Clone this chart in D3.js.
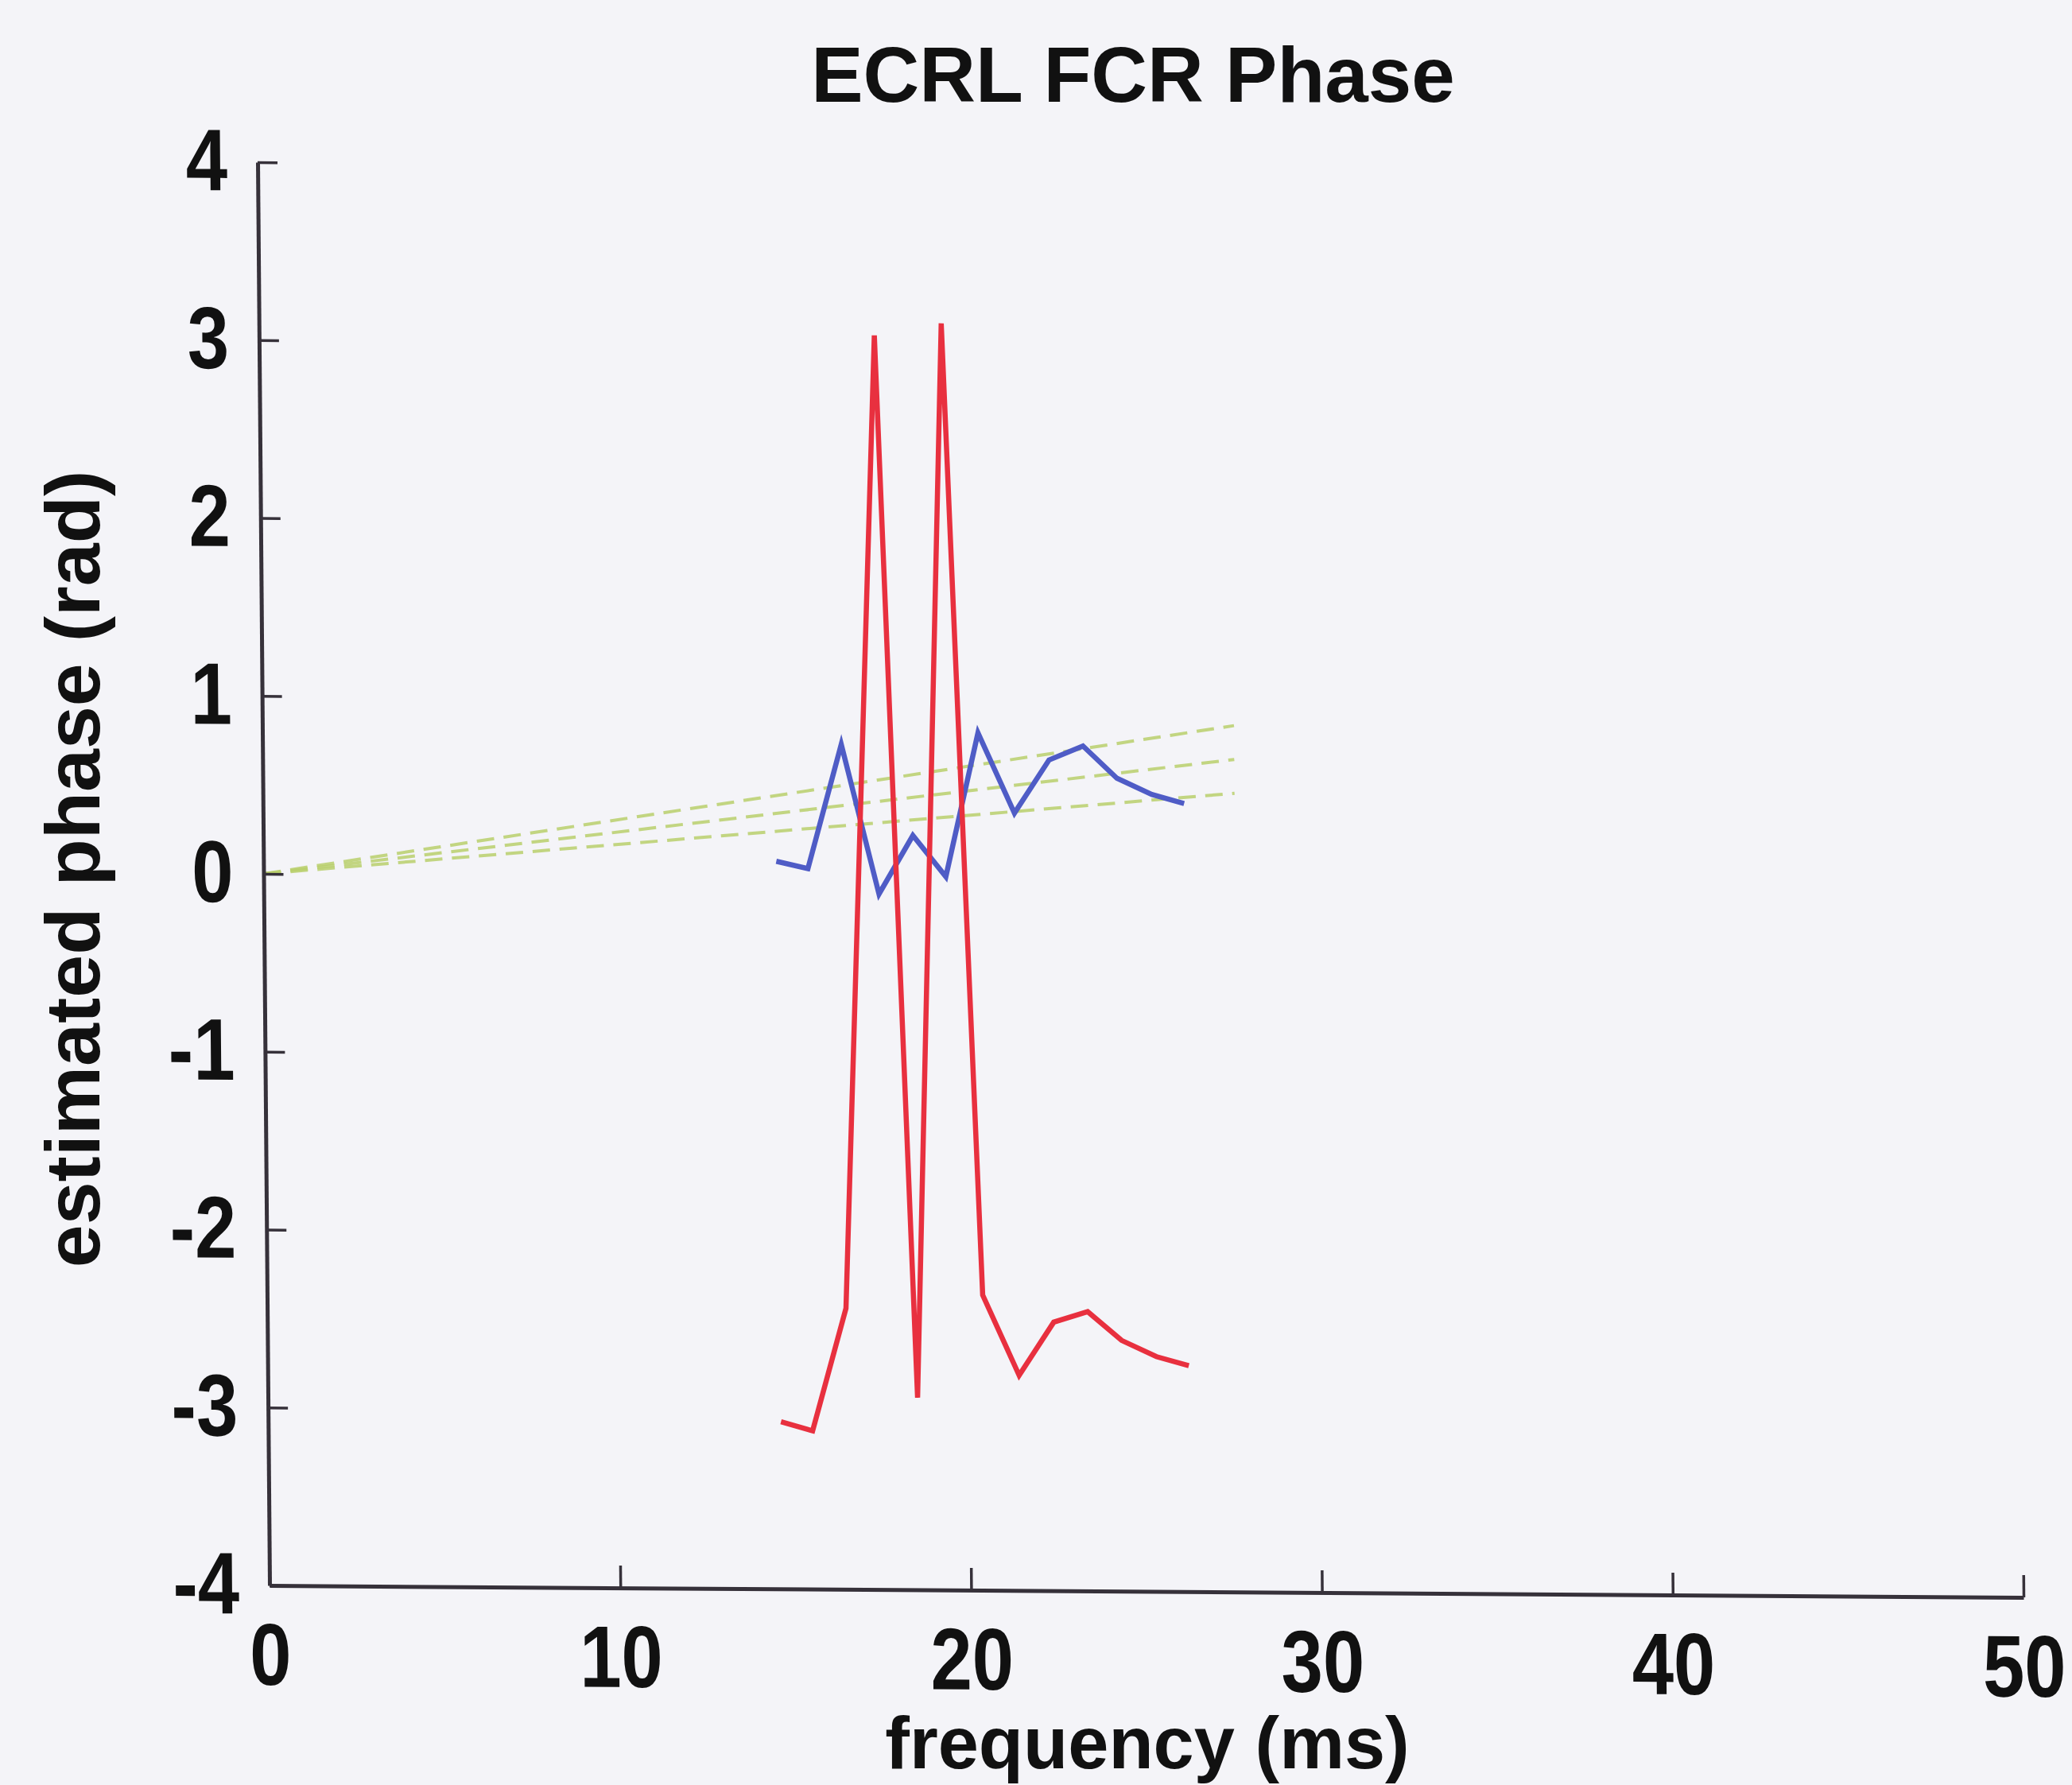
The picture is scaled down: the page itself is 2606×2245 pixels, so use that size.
<!DOCTYPE html>
<html>
<head>
<meta charset="utf-8">
<title>ECRL FCR Phase</title>
<style>
  body { margin: 0; background: #f4f4f8; }
  text { font-family: "Liberation Sans", Arial, sans-serif; font-weight: bold; fill: #111; }
  .axis path, .axis line { stroke: #36313a; }
  .axis path { stroke-width: 5; }
  .axis line { stroke-width: 3.5; }
  .axis text { font-size: 94px; }
</style>
</head>
<body>
<svg id="chart" width="2606" height="2245"></svg>
<script src="https://d3js.org/d3.v7.min.js"></script>
<script>

// frequency bins (x) shared by both phase curves
var freq = [14.62, 15.52, 16.5, 17.54, 18.52, 19.45, 20.4, 21.42, 22.42, 23.39, 24.35, 25.34, 26.26];
// red curve, wraps around +-pi
var redPhase  = [-3.06, -3.11, -2.42, 3.05, -2.92, 3.12, -2.34, -2.79, -2.49, -2.43, -2.59, -2.68, -2.73];
// blue curve
var bluePhase = [0.09, 0.05, 0.75, -0.09, 0.24, 0.01, 0.82, 0.37, 0.67, 0.75, 0.57, 0.48, 0.43];

// faint green dashed reference lines through the origin
var fitFreq  = [0, 27.7];
var fitUpper = [0, 0.87];
var fitMid   = [0, 0.68];
var fitLower = [0, 0.49];

var xTicks = [0, 10, 20, 30, 40, 50];
var yTicks = [-4, -3, -2, -1, 0, 1, 2, 3, 4];

var svg = d3.select('#chart');

svg.append('rect')
  .attr('width', 2606)
  .attr('height', 2245)
  .attr('fill', '#f4f4f8');

var x = d3.scaleLinear().domain([0, 50]).range([339, 2545]);
var y = d3.scaleLinear().domain([-4, 4]).range([1994, 204]);

// the scanned page is a bit skewed, so the plot area is too
var plot = svg.append('g')
  .attr('transform', 'matrix(1,0.0068,0.00838,1,-16.71,-2.305)');

var line = d3.line()
  .x(d => x(d[0]))
  .y(d => y(d[1]));

[fitUpper, fitMid, fitLower].forEach(function(f){
  plot.append('path')
    .datum(d3.zip(fitFreq, f))
    .attr('d', line)
    .attr('fill', 'none')
    .attr('stroke', '#b9cf6c')
    .attr('stroke-width', 4)
    .attr('stroke-dasharray', '22,12')
    .attr('opacity', 0.85);
});

plot.append('path')
  .datum(d3.zip(freq, bluePhase))
  .attr('d', line)
  .attr('fill', 'none')
  .attr('stroke', '#4f5cc6')
  .attr('stroke-width', 6.5);

plot.append('path')
  .datum(d3.zip(freq, redPhase))
  .attr('d', line)
  .attr('fill', 'none')
  .attr('stroke', '#e8303f')
  .attr('stroke-width', 6.5);

var xAxis = d3.axisBottom(x)
  .tickValues(xTicks)
  .tickSize(-28)
  .tickSizeOuter(0)
  .tickPadding(40)
  .tickFormat(d => String(d));

var yAxis = d3.axisLeft(y)
  .tickValues(yTicks)
  .tickSize(-25)
  .tickSizeOuter(0)
  .tickPadding(38)
  .tickFormat(d => String(d));

plot.append('g')
  .attr('class', 'axis')
  .attr('transform', 'translate(0,1994)')
  .call(xAxis);

plot.append('g')
  .attr('class', 'axis')
  .attr('transform', 'translate(339,0)')
  .call(yAxis);

// digits in the scan are a little taller than the font
plot.selectAll('.axis text').attr('transform', 'scale(1,1.17)');

svg.append('text')
  .attr('x', 1425)
  .attr('y', 128)
  .attr('text-anchor', 'middle')
  .style('font-size', '98px')
  .text('ECRL FCR Phase');

svg.append('text')
  .attr('x', 1443)
  .attr('y', 2224)
  .attr('text-anchor', 'middle')
  .style('font-size', '92px')
  .text('frequency (ms)');

svg.append('text')
  .attr('transform', 'translate(125,1093) rotate(-90)')
  .attr('text-anchor', 'middle')
  .style('font-size', '97px')
  .text('estimated phase (rad)');

</script>
</body>
</html>
